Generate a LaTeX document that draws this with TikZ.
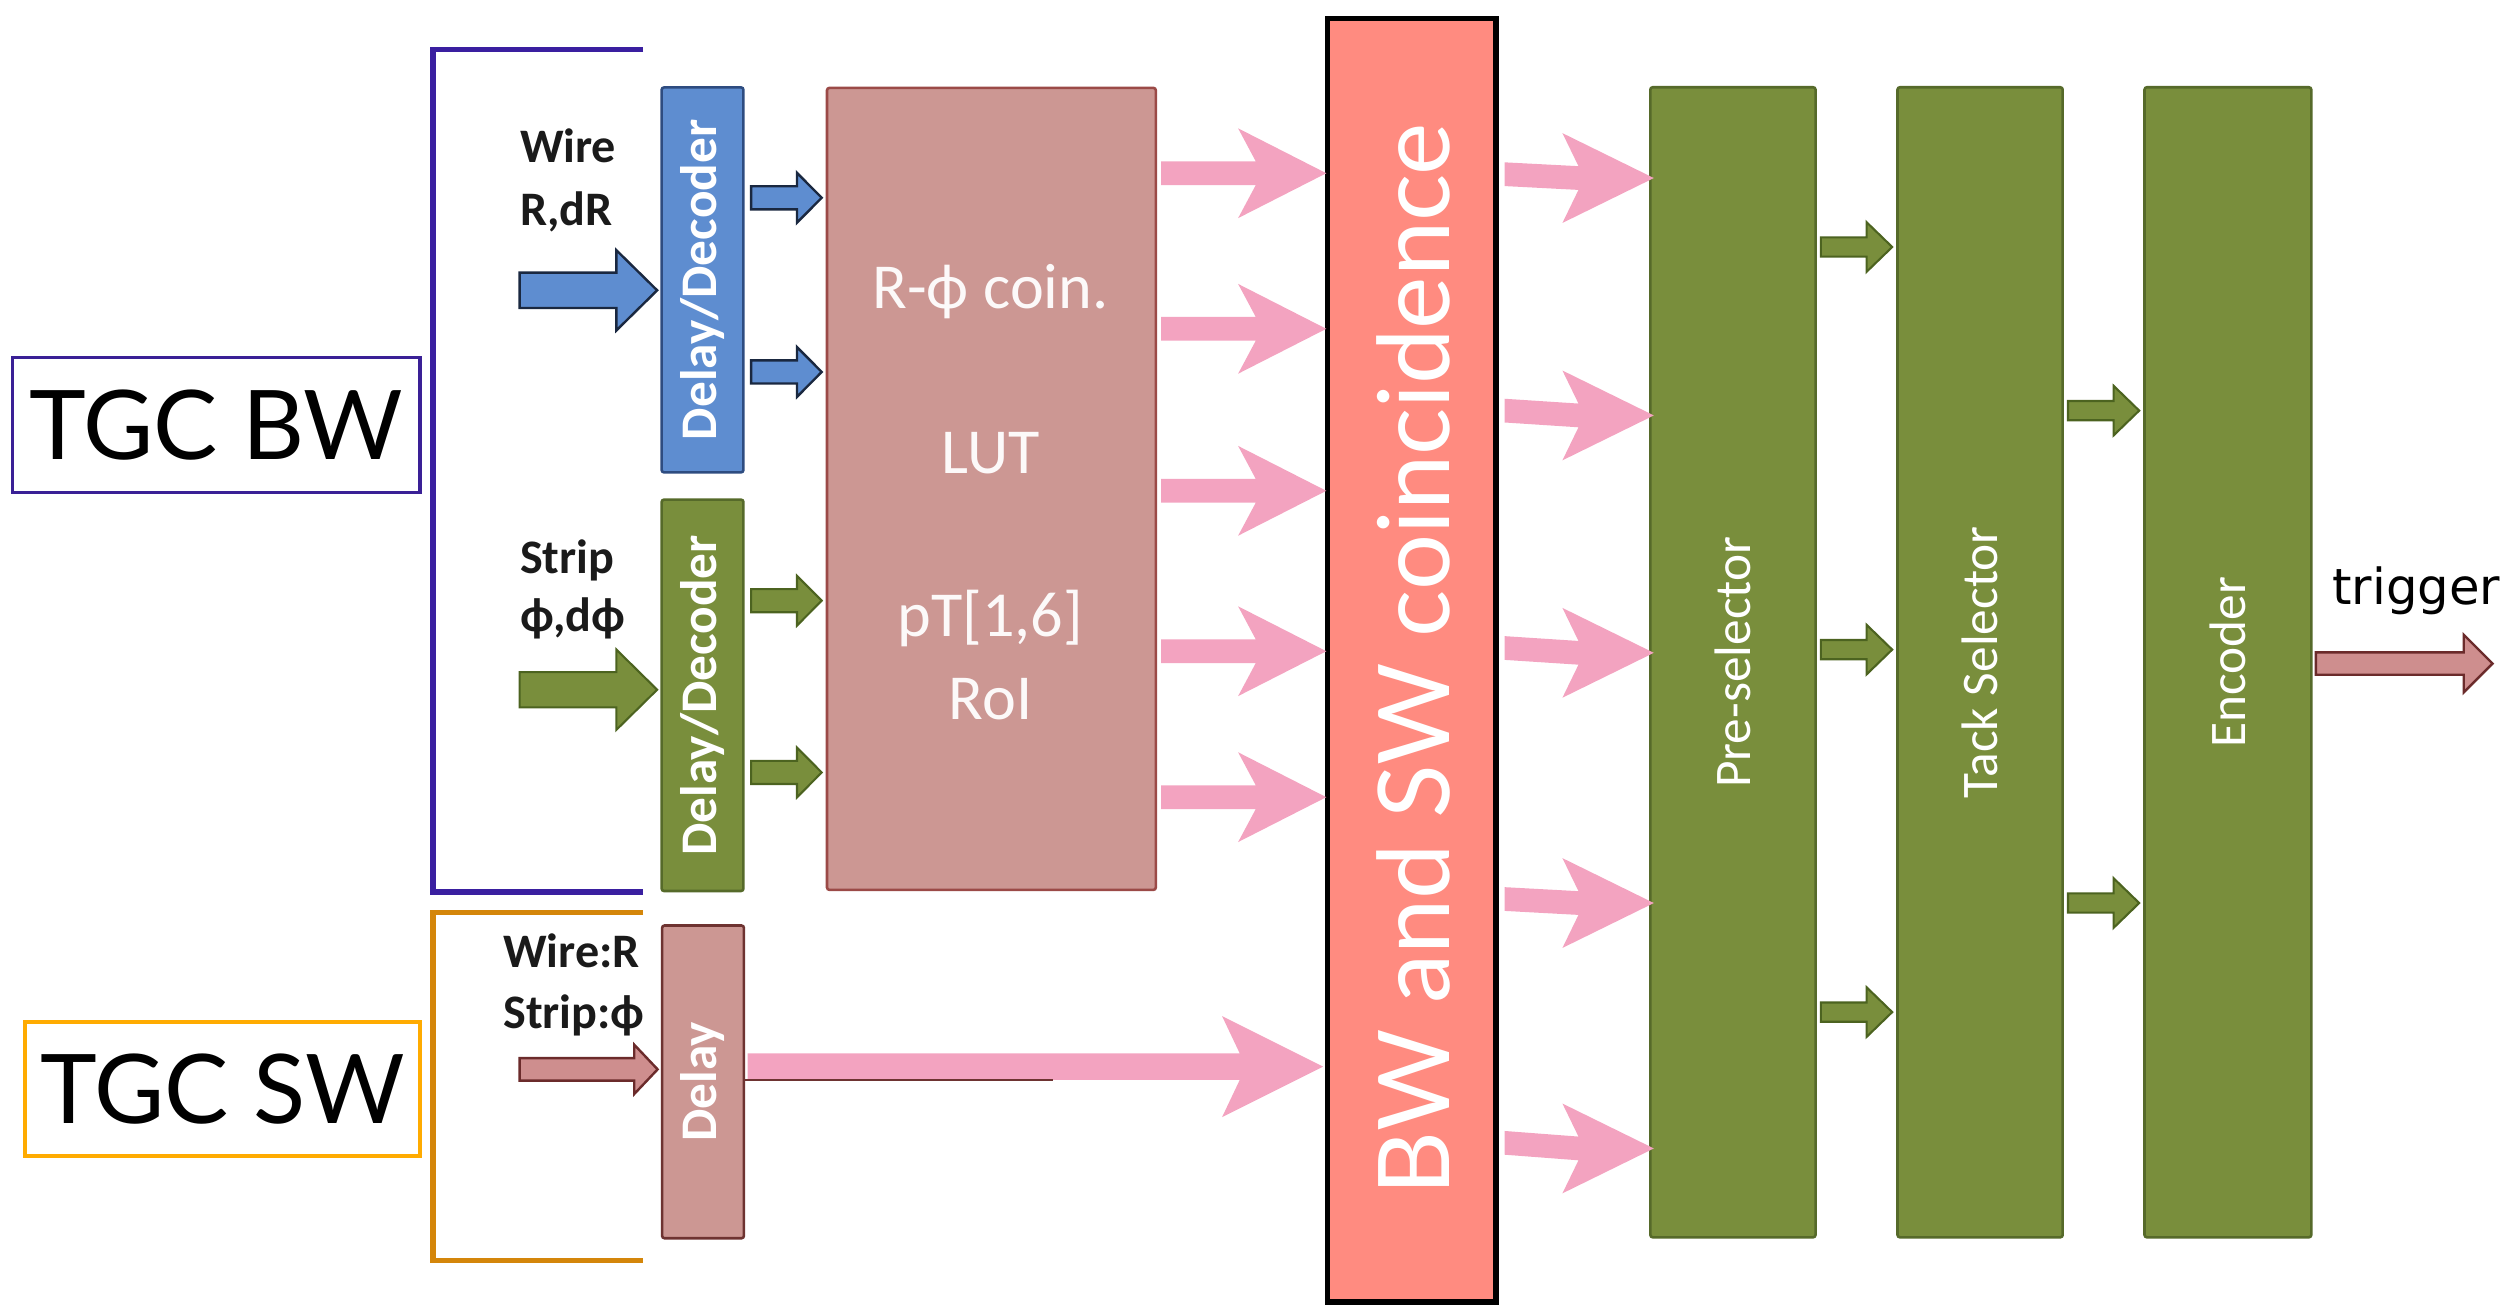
\documentclass[tikz,border=0pt]{standalone}
\usepackage{graphicx}
\usepackage{fontspec}
\setmainfont{Carlito}
\newfontfamily\latofont{Lato}
\newfontfamily\dvfont{DejaVu Sans}
\usetikzlibrary{calc}
\definecolor{blueF}{HTML}{5E8DD0}
\definecolor{blueD}{HTML}{2E4C80}
\definecolor{blueAD}{HTML}{1A2840}
\definecolor{greenF}{HTML}{798E3C}
\definecolor{greenD}{HTML}{566A2A}
\definecolor{greenAD}{HTML}{4C6320}
\definecolor{lutF}{HTML}{CC9793}
\definecolor{lutD}{HTML}{9B4A47}
\definecolor{delayD}{HTML}{6E3331}
\definecolor{pinkA}{HTML}{F3A3C0}
\definecolor{bwF}{HTML}{FF8B80}
\definecolor{trigF}{HTML}{CE8E8E}
\definecolor{trigD}{HTML}{6B2B2B}
\definecolor{purpleL}{HTML}{3A1FA0}
\definecolor{purpleB}{HTML}{3A2096}
\definecolor{orangeL}{HTML}{D4860A}
\definecolor{orangeB}{HTML}{FFAB00}
\definecolor{txtD}{HTML}{1A1A1A}
% block arrow: style, from, to, y start, y end, shaft half, head half, head length, inset
\newcommand\barrow[9]{%
  \path[#1] let \p1=(#2), \p2=(#3), \p3=(0,#4), \p4=(0,#5) in
  ({\x1},{\y3+#6pt}) -- ({\x2-#8pt+#9pt},{\y4+#6pt}) -- ({\x2-#8pt},{\y4+#7pt}) --
  ({\x2},{\y4}) -- ({\x2-#8pt},{\y4-#7pt}) -- ({\x2-#8pt+#9pt},{\y4-#6pt}) --
  ({\x1},{\y3-#6pt}) -- cycle;}
\begin{document}
\begin{tikzpicture}[x=1pt,y=-1pt,
  box/.style={draw, rectangle, rounded corners=1.5pt, line width=1.6pt, inner sep=0pt},
  lbl/.style={font=\fontsize{32}{36}\selectfont\bfseries, text=white},
  lbl2/.style={font=\fontsize{32}{36}\selectfont, text=white},
  bluebox/.style={box, fill=blueF, draw=blueD, lbl},
  greenbox/.style={box, fill=greenF, draw=greenD, lbl},
  greenbig/.style={box, fill=greenF, draw=greenD, lbl2},
  delaybox/.style={box, fill=lutF, draw=delayD, lbl},
  lutbox/.style={box, fill=lutF, draw=lutD},
  luttxt/.style={anchor=base, inner sep=0pt, text=white!94!lutF, font=\fontsize{40}{44}\selectfont},
  intxt/.style={anchor=base west, inner sep=0pt, text=txtD, font=\fontsize{30}{34}\selectfont\bfseries},
  pinkarr/.style={fill=pinkA},
  bluearr/.style={fill=blueF, draw=blueAD, line width=1.5pt},
  greenarr/.style={fill=greenF, draw=greenAD, line width=1.3pt},
  redarr/.style={fill=trigF, draw=trigD, line width=1.5pt}]
\useasboundingbox (0,0) rectangle (1568,819);

% brackets
\draw[purpleL, line width=3.4pt] (401,31) -- (270,31) -- (270,556) -- (401,556);
\draw[orangeL, line width=3.4pt] (401,569) -- (270,569) -- (270,786) -- (401,786);

% group labels
\node[draw=purpleB, line width=2.2pt, minimum width=254, minimum height=84, inner sep=0pt, font=\latofont] (tgcbw) at (134.9,265) {\resizebox{233pt}{!}{TGC BW}};
\node[draw=orangeB, line width=2.5pt, minimum width=246, minimum height=84, inner sep=0pt, font=\latofont] (tgcsw) at (138.6,679) {\resizebox{227pt}{!}{TGC SW}};

% blocks
\node[bluebox, minimum width=51, minimum height=240] (dec1) at (438,174.5) {\rotatebox{90}{Delay/Decoder}};
\node[greenbox, minimum width=51, minimum height=244] (dec2) at (438,433.5) {\rotatebox{90}{Delay/Decoder}};
\node[delaybox, minimum width=51, minimum height=195] (delay) at (438.3,674.5) {\rotatebox{90}{Delay}};
\node[lutbox, minimum width=205, minimum height=500] (lut) at (618.1,304.8) {};
\node[draw=black, line width=3.6pt, fill=bwF, inner sep=0pt, minimum width=105, minimum height=800] (bwsw) at (880.2,411.6) {};
\node[greenbig, minimum width=103, minimum height=717] (pre) at (1080.4,412.9) {\rotatebox{90}{Pre-selector}};
\node[greenbig, minimum width=103, minimum height=717] (tack) at (1234.5,412.9) {\rotatebox{90}{Tack Selector}};
\node[greenbig, minimum width=104, minimum height=717] (enc) at (1389,412.9) {\rotatebox{90}{Encoder}};

% LUT texts
\node[luttxt] (l1) at (617.5,192.5) {R-ϕ coin.};
\node[luttxt] (l2) at (617.8,295) {LUT};
\node[luttxt] (l3) at (617.5,396.6) {pT[1,6]};
\node[luttxt] (l4) at (617.5,448.6) {RoI};

% BW and SW text
\node[rotate=90, anchor=base, inner sep=0pt, text=white, font=\latofont] (bwtxt) at (903.5,411) {\resizebox{668pt}{!}{BW and SW coincidence}};

% input texts
\node[intxt] (t1) at (324,101.6) {Wire};
\node[intxt] (t2) at (324,140.5) {R,dR};
\node[intxt] (t3) at (324,357.7) {Strip};
\node[intxt] (t4) at (324,393.8) {ϕ,dϕ};
\node[intxt] (t5) at (313.6,603.5) {Wire:R};
\node[intxt] (t6) at (313.6,641) {Strip:ϕ};
\node[anchor=base west, inner sep=0pt, font=\dvfont\fontsize{31}{34}\selectfont] (trig) at (1454,377) {trigger};

% free ends
\coordinate (inW) at (324,181);
\coordinate (inS) at (324,430);
\coordinate (inD) at (324,666.7);
\coordinate (trigEnd) at (1554,413.7);
\coordinate (dl) at (656.6,673.3);

% input arrows
\barrow{bluearr}{inW}{$(dec1.west)+(-2,0)$}{181}{181}{11}{25}{25.4}{0}
\barrow{greenarr}{inS}{$(dec2.west)+(-2,0)$}{430}{430}{11}{25}{25.4}{0}
\barrow{redarr}{inD}{$(delay.west)+(-2,0)$}{666.7}{666.7}{7}{15.4}{14.6}{0}

% decoder -> LUT
\barrow{bluearr}{$(dec1.east)+(4,0)$}{$(lut.west)+(-2.5,0)$}{123.3}{123.3}{7.2}{15.5}{15.4}{0}
\barrow{bluearr}{$(dec1.east)+(4,0)$}{$(lut.west)+(-2.5,0)$}{231.9}{231.9}{7.2}{15.5}{15.4}{0}
\barrow{greenarr}{$(dec2.east)+(4,0)$}{$(lut.west)+(-2.5,0)$}{374.5}{374.5}{7.2}{15.5}{15.4}{0}
\barrow{greenarr}{$(dec2.east)+(4,0)$}{$(lut.west)+(-2.5,0)$}{481.6}{481.6}{7.2}{15.5}{15.4}{0}

% LUT -> BW/SW
\foreach \yy in {108,205,306,406,497}{
  \barrow{pinkarr}{$(lut.east)+(2.5,0)$}{$(bwsw.west)+(1,0)$}{\yy}{\yy}{7.4}{28}{55}{11}
}
% Delay -> BW/SW
\barrow{pinkarr}{$(delay.east)+(1.5,0)$}{$(bwsw.west)+(-1,0)$}{665}{665}{8.3}{31.5}{63}{11}
\draw[delayD, line width=1.2pt] (delay.east |- dl) -- (dl);

% BW/SW -> Pre-selector
\foreach \ya/\yb in {108.6/111,256/259,404/407,560.5/563,712.5/716}{
  \barrow{pinkarr}{$(bwsw.east)+(3.5,0)$}{$(pre.west)+(3,0)$}{\ya}{\yb}{7.4}{28}{57}{10}
}

% Pre -> Tack
\foreach \yy in {154,405,631}{
  \barrow{greenarr}{$(pre.east)+(2.5,0)$}{$(tack.west)+(-2.5,0)$}{\yy}{\yy}{6}{15.5}{16}{0}
}
% Tack -> Encoder
\foreach \yy in {256,563}{
  \barrow{greenarr}{$(tack.east)+(2.5,0)$}{$(enc.west)+(-2.5,0)$}{\yy}{\yy}{6}{15.5}{16}{0}
}
% Encoder -> trigger
\barrow{redarr}{$(enc.east)+(2,0)$}{trigEnd}{413.7}{413.7}{7}{18}{18}{0}
\end{tikzpicture}
\end{document}
